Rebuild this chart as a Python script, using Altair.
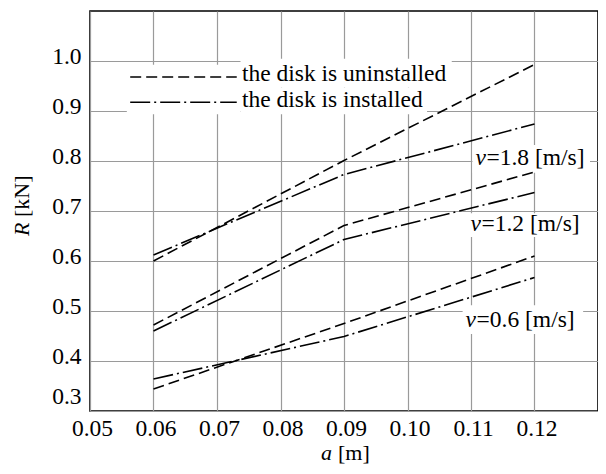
import altair as alt
import pandas as pd

# ---- data ----
a_vals = [0.06, 0.09, 0.12]
v_levels = ["1.8", "1.2", "0.6"]
R_uninstalled = {
    "1.8": [0.600, 0.801, 0.993],
    "1.2": [0.472, 0.671, 0.778],
    "0.6": [0.344, 0.475, 0.610],
}
R_installed = {
    "1.8": [0.612, 0.773, 0.874],
    "1.2": [0.460, 0.643, 0.737],
    "0.6": [0.364, 0.449, 0.567],
}
x_ticks = [0.05, 0.06, 0.07, 0.08, 0.09, 0.10, 0.11, 0.12]
y_ticks = [0.3, 0.4, 0.5, 0.6, 0.7, 0.8, 0.9, 1.0]
legend_labels = ["the disk is uninstalled", "the disk is installed"]

FONT = "'Liberation Serif', 'Times New Roman', serif"
FS = 23.5
FT = 22

rows = []
for v in v_levels:
    for a, r in zip(a_vals, R_uninstalled[v]):
        rows.append({"a": a, "R": r, "series": "u" + v, "kind": "uninstalled"})
    for a, r in zip(a_vals, R_installed[v]):
        rows.append({"a": a, "R": r, "series": "i" + v, "kind": "installed"})
df = pd.DataFrame(rows)

xscale = alt.Scale(domain=[0.05, 0.13], nice=False, zero=False)
yscale = alt.Scale(domain=[0.3, 1.1], nice=False, zero=False)

xaxis = alt.Axis(values=x_ticks, format=".2f", title=None, ticks=False, domain=False,
                 labelFont=FONT, labelFontSize=FS, labelColor="black", labelPadding=5,
                 labelOffset=2, gridColor="#9a9a9a", gridWidth=1.2, labelFlush=False)
yaxis = alt.Axis(values=y_ticks, format=".1f", title=None, ticks=False, domain=False,
                 labelFont=FONT, labelFontSize=FS, labelColor="black", labelPadding=9,
                 labelOffset={"condition": {"test": "datum.value < 0.35", "value": -15}, "value": -5},
                 gridColor="#9a9a9a", gridWidth=1.2, labelFlush=False)

DASH = [11, 5]
DASHDOT = [20, 4, 2, 4]

# white boxes behind annotations (data coordinates)
boxes = pd.DataFrame([
    {"a": 0.11023, "a2": 0.12874, "R": 0.8321, "R2": 0.7766},
    {"a": 0.10930, "a2": 0.12874, "R": 0.6954, "R2": 0.6479},
    {"a": 0.10868, "a2": 0.12766, "R": 0.5113, "R2": 0.4539},
    {"a": 0.07370, "a2": 0.10697, "R": 1.0044, "R2": 0.9469},
    {"a": 0.07370, "a2": 0.10308, "R": 0.9469, "R2": 0.8935},
    {"a": 0.05580, "a2": 0.07370, "R": 0.9925, "R2": 0.8935},
])

base_rect = alt.Chart(boxes).mark_rect(color="white").encode(
    x=alt.X("a:Q", scale=xscale, axis=xaxis),
    x2="a2:Q",
    y=alt.Y("R:Q", scale=yscale, axis=yaxis),
    y2="R2:Q",
)

def series_line(kind, dash):
    return alt.Chart(df[df.kind == kind]).mark_line(
        color="black", strokeWidth=1.6, strokeDash=dash
    ).encode(
        x=alt.X("a:Q", title=None),
        y=alt.Y("R:Q", title=None),
        detail="series:N",
    )

lines_u = series_line("uninstalled", DASH)
lines_i = series_line("installed", DASHDOT)

# legend (manual, inside the plot)
leg_u = pd.DataFrame({"a": [0.05633, 0.07311], "R": [0.968, 0.968]})
leg_i = pd.DataFrame({"a": [0.05633, 0.07311], "R": [0.9176, 0.9176]})
leg_line_u = alt.Chart(leg_u).mark_line(color="black", strokeWidth=1.6, strokeDash=DASH).encode(
    x=alt.X("a:Q", title=None), y=alt.Y("R:Q", title=None))
leg_line_i = alt.Chart(leg_i).mark_line(color="black", strokeWidth=1.6, strokeDash=DASHDOT).encode(
    x=alt.X("a:Q", title=None), y=alt.Y("R:Q", title=None))
leg_text = pd.DataFrame({"a": [0.07392, 0.07392], "R": [0.975, 0.923], "t": legend_labels})
leg_txt = alt.Chart(leg_text).mark_text(
    font=FONT, fontSize=FS, align="left", baseline="middle", color="black"
).encode(x=alt.X("a:Q", title=None), y=alt.Y("R:Q", title=None), text="t:N")

# speed labels
vlab = pd.DataFrame({
    "a": [0.1107, 0.10992, 0.10914],
    "R": [0.8063, 0.6743, 0.4830],
    "rest": ["=" + v + " [m/s]" for v in v_levels],
})
v_italic = alt.Chart(vlab).mark_text(
    font=FONT, fontSize=FS, fontStyle="italic", align="left", baseline="middle", color="black", text="v"
).encode(x=alt.X("a:Q", title=None), y=alt.Y("R:Q", title=None))
v_rest = alt.Chart(vlab).mark_text(
    font=FONT, fontSize=FS, align="left", baseline="middle", color="black", dx=11
).encode(x=alt.X("a:Q", title=None), y=alt.Y("R:Q", title=None), text="rest:N")

# axis titles (mixed italic), placed in pixel space
one = pd.DataFrame({"k": [0]})
xt_a = alt.Chart(one).mark_text(font=FONT, fontSize=FT, fontStyle="italic", align="left",
                                baseline="middle", color="black", text="a").encode(
    x=alt.value(231), y=alt.value(442))
xt_m = alt.Chart(one).mark_text(font=FONT, fontSize=FT, align="left",
                                baseline="middle", color="black", text="[m]").encode(
    x=alt.value(248), y=alt.value(442))
yt_R = alt.Chart(one).mark_text(font=FONT, fontSize=FT, fontStyle="italic", align="left",
                                baseline="middle", color="black", text="R", angle=270).encode(
    x=alt.value(-68), y=alt.value(225))
yt_k = alt.Chart(one).mark_text(font=FONT, fontSize=FT, align="left",
                                baseline="middle", color="black", text="[kN]", angle=270).encode(
    x=alt.value(-68), y=alt.value(206))

chart = alt.layer(
    base_rect, lines_u, lines_i, leg_line_u, leg_line_i, leg_txt, v_italic, v_rest,
    xt_a, xt_m, yt_R, yt_k,
).properties(
    width=508, height=400,
    autosize=alt.AutoSizeParams(type="none"),
    padding={"left": 82, "top": 3, "right": 0, "bottom": 55},
).configure(
    background="white"
).configure_view(
    stroke="black", strokeWidth=1.6
)

chart.save("out.html", embed_options={"renderer": "svg", "actions": False})
